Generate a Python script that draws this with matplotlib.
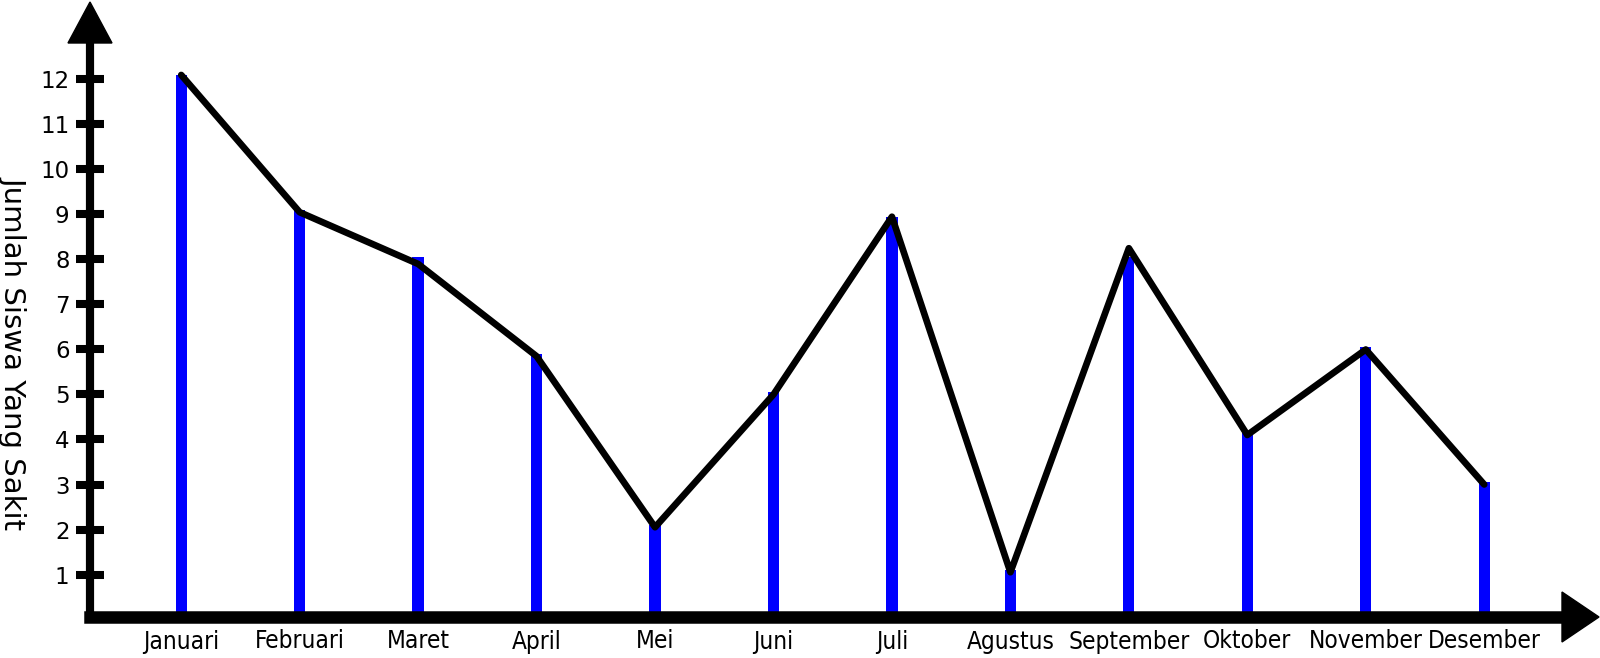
import numpy as np
import matplotlib
matplotlib.use("Agg")
import matplotlib.pyplot as plt
from matplotlib.patches import Polygon

# data
months = ["Januari", "Februari", "Maret", "April", "Mei", "Juni",
          "Juli", "Agustus", "September", "Oktober", "November", "Desember"]
bar_values = [12.1, 9.1, 8.05, 5.9, 2.1, 5.05, 8.95, 1.1, 8.05, 4.15, 6.05, 3.05]
line_values = [12.1, 9.05, 7.9, 5.85, 2.05, 5.0, 8.95, 1.05, 8.25, 4.1, 6.0, 3.0]
yticks = list(range(1, 13))

W, H = 1600, 658
fig = plt.figure(figsize=(W / 100, H / 100), dpi=100)
ax = fig.add_axes([90 / W, (H - 617) / H, (1563 - 90) / W, (617 - 43) / H])

x = np.arange(len(months))
ax.bar(x, bar_values, width=0.095, color="#0000ff", zorder=2)
ax.plot(x, line_values, color="black", lw=4.8, solid_joinstyle="round",
        solid_capstyle="round", zorder=3, clip_on=False)

ax.set_xlim(-0.77, 11.665)
ax.set_ylim(0.056, 12.81)

for s in ["top", "right"]:
    ax.spines[s].set_visible(False)
ax.spines["left"].set_linewidth(5.9)
ax.spines["bottom"].set_linewidth(9)
for s in ["left", "bottom"]:
    ax.spines[s].set_zorder(4)

ax.set_yticks(yticks)
ax.tick_params(axis="y", direction="inout", length=19.5, width=5.8,
               labelsize=16.5, pad=5)
ax.set_xticks(x, months)
ax.tick_params(axis="x", length=0, pad=9, labelsize=17.5)
for lab in ax.get_xticklabels():
    lab.set_fontfamily(["DejaVu Sans Condensed", "DejaVu Sans"])
    lab.set_fontstretch("condensed")

# arrow heads on the axes
fig.patches.append(Polygon([(68 / W, (H - 43) / H), (112 / W, (H - 43) / H),
                            (90 / W, (H - 2) / H)], closed=True,
                           color="black", transform=fig.transFigure))
fig.patches.append(Polygon([(1562 / W, (H - 592) / H), (1562 / W, (H - 642) / H),
                            (1599 / W, (H - 617) / H)], closed=True,
                           color="black", transform=fig.transFigure))

fig.text(13 / W, (H - 353) / H, "Jumlah Siswa Yang Sakit", rotation=-90,
         ha="center", va="center", fontsize=21)

fig.savefig("out.png", dpi=100)
